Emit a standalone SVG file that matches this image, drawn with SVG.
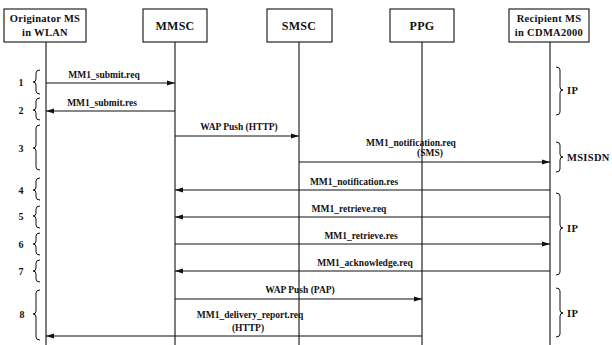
<svg xmlns="http://www.w3.org/2000/svg" width="612" height="345" viewBox="0 0 612 345">
  <defs>
    <marker id="arrow" markerUnits="userSpaceOnUse" markerWidth="9" markerHeight="6" refX="8" refY="3" orient="auto">
      <path d="M0,0.6 L8,3 L0,5.4 Z" fill="#111"/>
    </marker>
    <style>
      .box { fill: #fff; stroke: #111; stroke-width: 1.1; }
      .life { stroke: #111; stroke-width: 1.1; fill: none; }
      .msg { stroke: #111; stroke-width: 1.1; fill: none; marker-end: url(#arrow); }
      .brace { stroke: #111; stroke-width: 1; fill: none; }
      text { font-family: "Liberation Serif", "Times New Roman", serif; font-weight: bold; fill: #111; }
      .title { font-size: 10.5px; text-anchor: middle; letter-spacing: 0.3px; }
      .title-lg { font-size: 12px; text-anchor: middle; letter-spacing: 0.3px; }
      .lbl { font-size: 9.5px; text-anchor: middle; }
      .num { font-size: 10px; text-anchor: middle; }
      .side { font-size: 10.5px; letter-spacing: 0.3px; }
    </style>
  </defs>

  <rect width="612" height="345" fill="#fff"/>

  <!-- Lifelines -->
  <g id="lifelines">
    <line class="life" x1="46" y1="42" x2="46" y2="345"/>
    <line class="life" x1="175" y1="42" x2="175" y2="345"/>
    <line class="life" x1="299" y1="42" x2="299" y2="345"/>
    <line class="life" x1="422" y1="42" x2="422" y2="345"/>
    <line class="life" x1="550" y1="42" x2="550" y2="345"/>
  </g>

  <!-- Participants -->
  <g id="originator-ms">
    <rect class="box" x="4" y="9" width="82" height="33"/>
    <text class="title" x="45" y="22">Originator MS</text>
    <text class="title" x="45" y="36">in WLAN</text>
  </g>
  <g id="mmsc">
    <rect class="box" x="143" y="9" width="64" height="33"/>
    <text class="title-lg" x="175" y="30">MMSC</text>
  </g>
  <g id="smsc">
    <rect class="box" x="267" y="9" width="65" height="33"/>
    <text class="title-lg" x="299" y="30">SMSC</text>
  </g>
  <g id="ppg">
    <rect class="box" x="390" y="9" width="64" height="33"/>
    <text class="title-lg" x="422" y="30">PPG</text>
  </g>
  <g id="recipient-ms">
    <rect class="box" x="509" y="9" width="80" height="33"/>
    <text class="title" x="549" y="22">Recipient MS</text>
    <text class="title" x="549" y="36">in CDMA2000</text>
  </g>

  <!-- Messages -->
  <g id="connectors">
    <line class="msg" x1="46" y1="83" x2="175" y2="83"/>
    <text class="lbl" x="104" y="78">MM1_submit.req</text>

    <line class="msg" x1="175" y1="111" x2="46" y2="111"/>
    <text class="lbl" x="102" y="106">MM1_submit.res</text>

    <line class="msg" x1="175" y1="136" x2="299" y2="136"/>
    <text class="lbl" x="239" y="130">WAP Push (HTTP)</text>

    <line class="msg" x1="299" y1="162" x2="550" y2="162"/>
    <text class="lbl" x="411" y="146">MM1_notification.req</text>
    <text class="lbl" x="430" y="156">(SMS)</text>

    <line class="msg" x1="550" y1="190" x2="175" y2="190"/>
    <text class="lbl" x="354" y="185">MM1_notification.res</text>

    <line class="msg" x1="550" y1="217" x2="175" y2="217"/>
    <text class="lbl" x="349" y="212">MM1_retrieve.req</text>

    <line class="msg" x1="175" y1="244" x2="550" y2="244"/>
    <text class="lbl" x="361" y="239">MM1_retrieve.res</text>

    <line class="msg" x1="550" y1="271" x2="175" y2="271"/>
    <text class="lbl" x="365" y="266">MM1_acknowledge.req</text>

    <line class="msg" x1="175" y1="299" x2="422" y2="299"/>
    <text class="lbl" x="300" y="293">WAP Push (PAP)</text>

    <line class="msg" x1="422" y1="336" x2="46" y2="336"/>
    <text class="lbl" x="250" y="318">MM1_delivery_report.req</text>
    <text class="lbl" x="248" y="331">(HTTP)</text>
  </g>

  <!-- Step braces (left) -->
  <g id="steps">
    <path class="brace" d="M40,70 Q36,70 36,73 L36,79 Q36,82 33,82 Q36,82 36,85 L36,91 Q36,94 40,94"/>
    <text class="num" x="21" y="86">1</text>
    <path class="brace" d="M40,98 Q36,98 36,101 L36,107 Q36,110 33,110 Q36,110 36,113 L36,117 Q36,120 40,120"/>
    <text class="num" x="21" y="114">2</text>
    <path class="brace" d="M40,125 Q36,125 36,128 L36,145 Q36,148 33,148 Q36,148 36,151 L36,167 Q36,170 40,170"/>
    <text class="num" x="21" y="152">3</text>
    <path class="brace" d="M40,178 Q36,178 36,181 L36,187 Q36,190 33,190 Q36,190 36,193 L36,197 Q36,200 40,200"/>
    <text class="num" x="21" y="194">4</text>
    <path class="brace" d="M40,206 Q36,206 36,209 L36,213 Q36,216 33,216 Q36,216 36,219 L36,225 Q36,228 40,228"/>
    <text class="num" x="21" y="220">5</text>
    <path class="brace" d="M40,233 Q36,233 36,236 L36,241 Q36,244 33,244 Q36,244 36,247 L36,252 Q36,255 40,255"/>
    <text class="num" x="21" y="248">6</text>
    <path class="brace" d="M40,260 Q36,260 36,263 L36,268 Q36,271 33,271 Q36,271 36,274 L36,279 Q36,282 40,282"/>
    <text class="num" x="21" y="275">7</text>
    <path class="brace" d="M40,290 Q36,290 36,293 L36,311 Q36,314 33,314 Q36,314 36,317 L36,337 Q36,340 40,340"/>
    <text class="num" x="22" y="318">8</text>
  </g>

  <!-- Transport braces (right) -->
  <g id="transports">
    <path class="brace" d="M556,67 Q560,67 560,70 L560,87 Q560,90 563,90 Q560,90 560,93 L560,112 Q560,115 556,115"/>
    <text class="side" x="567" y="94">IP</text>
    <path class="brace" d="M556,142 Q560,142 560,145 L560,154 Q560,157 563,157 Q560,157 560,160 L560,169 Q560,172 556,172"/>
    <text class="side" x="567" y="161">MSISDN</text>
    <path class="brace" d="M556,193 Q560,193 560,196 L560,225 Q560,228 563,228 Q560,228 560,231 L560,272 Q560,275 556,275"/>
    <text class="side" x="567" y="232">IP</text>
    <path class="brace" d="M556,288 Q560,288 560,291 L560,310 Q560,313 563,313 Q560,313 560,316 L560,334 Q560,337 556,337"/>
    <text class="side" x="567" y="317">IP</text>
  </g>
</svg>
